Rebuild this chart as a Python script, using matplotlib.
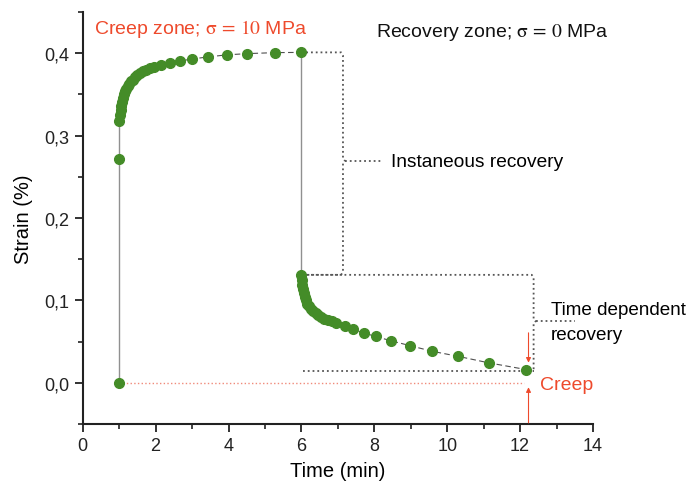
import matplotlib
matplotlib.use('Agg')
import matplotlib.pyplot as plt
from matplotlib.ticker import MultipleLocator, FuncFormatter

plt.rcParams['font.family'] = ['Liberation Sans', 'DejaVu Sans']
plt.rcParams['mathtext.fontset'] = 'stix'

# creep stage (stress 10 MPa)
creep_t = [1.00, 1.00, 1.00, 1.02, 1.04, 1.06, 1.08, 1.11, 1.14, 1.17, 1.20,
           1.24, 1.28, 1.33, 1.38, 1.44, 1.50, 1.57, 1.65, 1.74, 1.84, 1.95,
           2.16, 2.39, 2.67, 3.00, 3.44, 3.95, 4.52, 5.27, 6.00]
creep_s = [0.000, 0.272, 0.318, 0.325, 0.331, 0.336, 0.341, 0.346, 0.350, 0.354, 0.357,
           0.360, 0.363, 0.366, 0.368, 0.371, 0.3735, 0.376, 0.378, 0.380, 0.3815, 0.383,
           0.3855, 0.388, 0.3905, 0.393, 0.3955, 0.398, 0.3995, 0.4007, 0.401]

# recovery stage (stress 0 MPa)
rec_t = [6.00, 6.01, 6.02, 6.04, 6.06, 6.09, 6.12, 6.16, 6.21, 6.26, 6.32, 6.39,
         6.46, 6.54, 6.63, 6.73, 6.84, 6.96, 7.19, 7.41, 7.71, 8.04, 8.47, 8.97,
         9.58, 10.29, 11.14, 12.16]
rec_s = [0.131, 0.125, 0.119, 0.114, 0.109, 0.104, 0.100, 0.096, 0.093, 0.090, 0.087, 0.0845,
         0.082, 0.080, 0.078, 0.0765, 0.0745, 0.0726, 0.0685, 0.0649, 0.0605, 0.0562, 0.0508, 0.0452,
         0.0383, 0.0322, 0.0242, 0.0161]

green = '#448c28'
red = '#ee4a2c'
grey = '#505050'

fig = plt.figure(figsize=(6.94, 4.89), dpi=100)
ax = fig.add_axes([0.1192, 0.1309, 0.7353, 0.8425])

# solid jumps at load / unload
ax.plot([1, 1], [creep_s[0], creep_s[2]], color='#909090', lw=1.0, zorder=1)
ax.plot([6, 6], [creep_s[-1], rec_s[0]], color='#909090', lw=1.0, zorder=1)

# dashed connecting lines
ax.plot(creep_t[2:], creep_s[2:], color=grey, lw=0.8, ls=(0, (5, 3)), zorder=2)
ax.plot(rec_t, rec_s, color=grey, lw=0.8, ls=(0, (5, 3)), zorder=2)

# permanent creep reference line
ax.plot([1, 12.1], [0, 0], color='#f08a7a', lw=1.0, ls=':', zorder=1)

# markers
ax.plot(creep_t, creep_s, 'o', color=green, ms=7, mec=green, zorder=3)
ax.plot(rec_t, rec_s, 'o', color=green, ms=7, mec=green, zorder=3)

# brace for instantaneous recovery
dot = dict(color='#555555', lw=1.3, ls=':', zorder=1)
xb = 7.14
ax.plot([6.0, xb - 0.05, xb, xb, xb + 0.06, xb, xb, xb - 0.05, 6.0],
        [0.401, 0.401, 0.397, 0.272, 0.269, 0.266, 0.135, 0.131, 0.131], **dot)
ax.plot([xb + 0.06, 8.2], [0.269, 0.269], **dot)
ax.text(8.45, 0.269, 'Instaneous recovery', fontsize=13.8, va='center', ha='left')

# brace for time dependent recovery
xb2 = 12.37
ax.plot([6.0, xb2 - 0.05, xb2, xb2, xb2 + 0.06, xb2, xb2],
        [0.131, 0.131, 0.128, 0.077, 0.0746, 0.072, 0.0155], **dot)
ax.plot([xb2 + 0.06, 13.5], [0.0746, 0.0746], **dot)
ax.plot([6.04, xb2], [0.0148, 0.0148], **dot)
ax.text(12.85, 0.089, 'Time dependent', fontsize=13.6, va='center', ha='left', clip_on=False)
ax.text(12.85, 0.0585, 'recovery', fontsize=13.6, va='center', ha='left', clip_on=False)

# creep arrows
ax.annotate('', xy=(12.23, 0.021), xytext=(12.23, 0.064),
            arrowprops=dict(arrowstyle='-|>', color=red, lw=0.8, mutation_scale=7))
ax.annotate('', xy=(12.23, -0.002), xytext=(12.23, -0.052),
            arrowprops=dict(arrowstyle='-|>', color=red, lw=0.8, mutation_scale=7),
            annotation_clip=False)
ax.text(12.55, -0.002, 'Creep', color=red, fontsize=14, va='center', ha='left')

# zone labels
ax.text(0.3, 0.430, r'Creep zone; $\mathrm{\sigma\,=\,10}$ MPa', color=red, fontsize=14, va='center')
ax.text(8.05, 0.4265, r'Recovery zone; $\mathrm{\sigma\,=\,0}$ MPa', color='#111111', fontsize=14, va='center')

ax.set_xlim(0, 14)
ax.set_ylim(-0.05, 0.45)
ax.xaxis.set_major_locator(MultipleLocator(2))
ax.xaxis.set_minor_locator(MultipleLocator(1))
ax.yaxis.set_major_locator(MultipleLocator(0.1))
ax.yaxis.set_minor_locator(MultipleLocator(0.05))
ax.yaxis.set_major_formatter(FuncFormatter(lambda v, p: ('%.1f' % v).replace('.', ',')))
ax.set_yticks([0, 0.1, 0.2, 0.3, 0.4])

for s in ['top', 'right']:
    ax.spines[s].set_visible(False)
for s in ['left', 'bottom']:
    ax.spines[s].set_linewidth(1.5)
    ax.spines[s].set_color('#222222')
ax.tick_params(which='major', direction='out', length=6, width=1.3, labelsize=13, colors='#222222')
ax.tick_params(which='minor', direction='out', length=3.5, width=1.2, colors='#222222')

ax.set_xlabel('Time (min)', fontsize=14.5, labelpad=5)
ax.set_ylabel('Strain (%)', fontsize=14.5, labelpad=8)

fig.savefig('out.png', dpi=100)
